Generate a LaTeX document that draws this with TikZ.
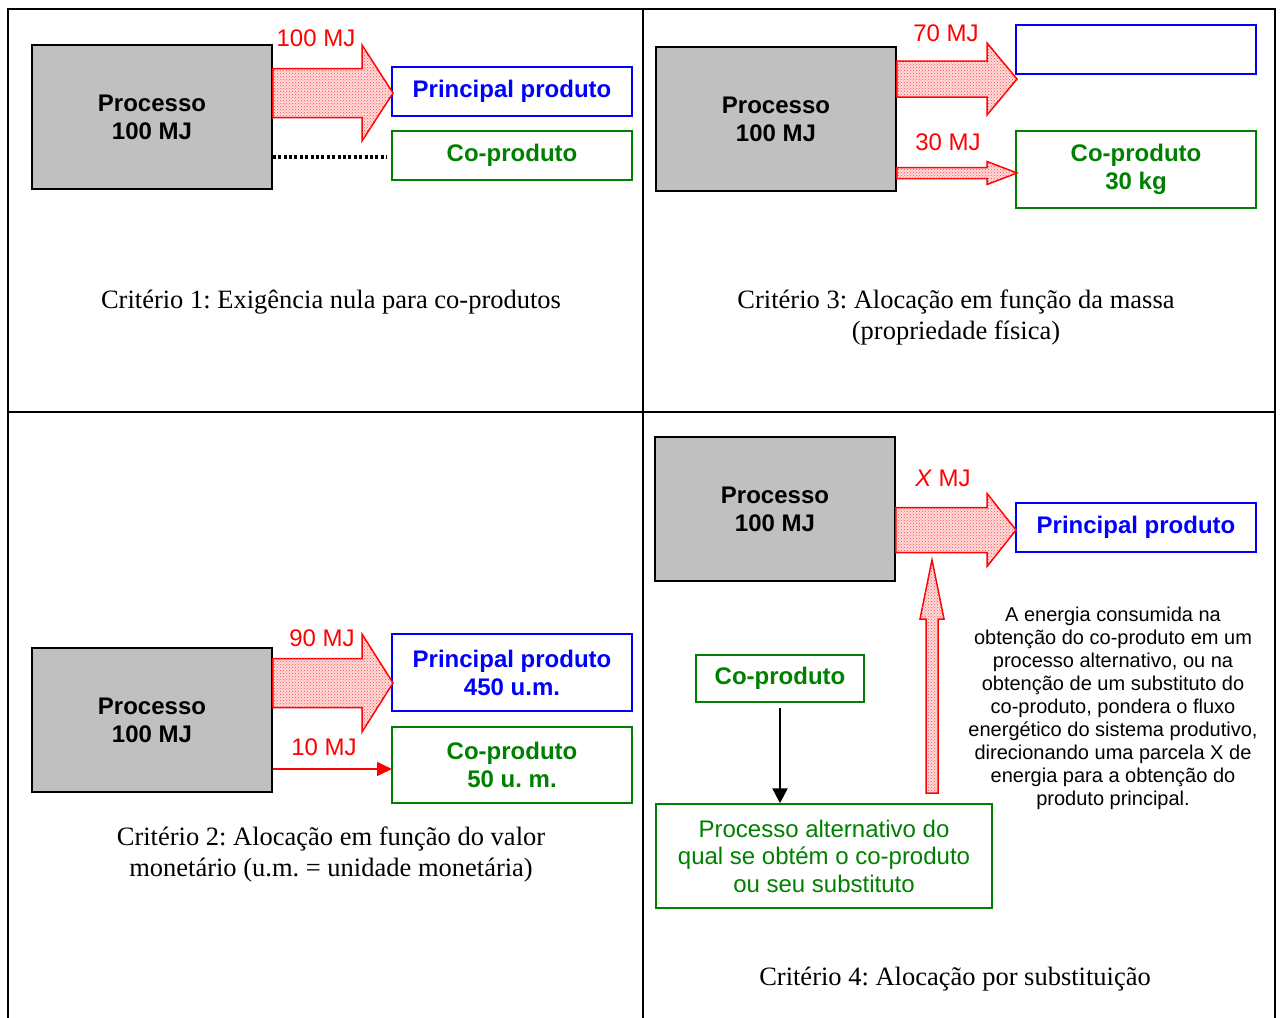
\documentclass[tikz,border=0pt]{standalone}
\usepackage{fontspec}
\setmainfont{Liberation Serif}
\setsansfont{Liberation Sans}
\usetikzlibrary{calc,arrows.meta,patterns}
\frenchspacing
\definecolor{exgreen}{RGB}{0,128,0}
\definecolor{exblue}{RGB}{0,0,255}
\definecolor{exred}{RGB}{255,0,0}
\definecolor{exgray}{RGB}{192,192,192}
\tikzset{
  grid line/.style={line width=2pt,black},
  procbox/.style={draw=black,line width=1.5pt,fill=exgray,minimum width=240pt,minimum height=144pt,
    align=center,font=\sffamily\bfseries\fontsize{24}{28}\selectfont,inner sep=0pt},
  bluebox/.style={draw=exblue,line width=1.5pt,fill=white,minimum width=240pt,align=center,
    text=exblue,font=\sffamily\bfseries\fontsize{24}{28}\selectfont,inner sep=0pt},
  greenbox/.style={draw=exgreen,line width=1.5pt,fill=white,minimum width=240pt,align=center,
    text=exgreen,font=\sffamily\bfseries\fontsize{24}{28}\selectfont,inner sep=0pt},
  mjlabel/.style={text=exred,font=\sffamily\fontsize{24}{28}\selectfont,inner sep=0pt},
  caption/.style={align=center,font=\rmfamily\fontsize{26.5}{31}\selectfont,inner sep=0pt},
  fatarrow/.style={draw=exred,line width=1.5pt,line join=miter,fill=red!14,
    postaction={pattern=crosshatch dots,pattern color=red!70}},
}
% horizontal fat arrow: #1 start (x used), #2 tip, #3 body half, #4 head half, #5 head length
\newcommand\fatH[5]{\path[fatarrow] let \p1=(#1), \p2=(#2) in
  (\x1,{\y2+#3}) -- ({\x2-#5},{\y2+#3}) -- ({\x2-#5},{\y2+#4}) -- (\p2) --
  ({\x2-#5},{\y2-#4}) -- ({\x2-#5},{\y2-#3}) -- (\x1,{\y2-#3}) -- cycle;}
% vertical (upward) fat arrow: #1 base, #2 tip, #3 body half, #4 head half, #5 head length
\newcommand\fatV[5]{\path[fatarrow] let \p1=(#1), \p2=(#2) in
  ({\x2-#3},\y1) -- ({\x2-#3},{\y2-#5}) -- ({\x2-#4},{\y2-#5}) -- (\p2) --
  ({\x2+#4},{\y2-#5}) -- ({\x2+#3},{\y2-#5}) -- ({\x2+#3},\y1) -- cycle;}
\begin{document}
\begin{tikzpicture}[x=1pt,y=-1pt]
\useasboundingbox (0,0) rectangle (1281,1017);
% table grid
\draw[grid line] (8,1030) -- (8,9) -- (1275,9) -- (1275,1030);
\draw[grid line] (643,9) -- (643,1030);
\draw[grid line] (8,412) -- (1275,412);

% ---------- Panel 1 ----------
\node[procbox] (proc1) at (152,117) {Processo\\100 MJ};
\node[bluebox,minimum height=49pt] (prod1) at (512,91.5) {Principal produto};
\node[greenbox,minimum height=49pt] (co1) at (512,155.5) {Co-produto};
\coordinate (tip1) at (393,93);
\fatH{proc1.east}{tip1}{24.5pt}{48pt}{31pt}
\draw[line width=3.2pt,dash pattern=on 3pt off 2.4pt,shorten >=4pt] (proc1.east |- 0,157) coordinate (d1) -- (co1.west |- d1);
\node[mjlabel] (l1) at (316,38) {100 MJ};
\node[caption] (c1) at (331,302) {Critério 1: Exigência nula para co-produtos};

% ---------- Panel 3 ----------
\node[procbox] (proc3) at (776,119) {Processo\\100 MJ};
\node[bluebox,minimum height=49pt] (prod3) at (1136,49.5) {};
\node[greenbox,minimum height=77pt] (co3) at (1136,169.5) {Co-produto\\30 kg};
\coordinate (tip3a) at (1017,79);
\coordinate (tip3b) at (1017,173);
\fatH{proc3.east}{tip3a}{18pt}{36pt}{30pt}
\fatH{proc3.east}{tip3b}{5.5pt}{11.5pt}{30pt}
\node[mjlabel] (l3a) at (946,33) {70 MJ};
\node[mjlabel] (l3b) at (948,142) {30 MJ};
\node[caption] (c3) at (956,317.5) {Critério 3: Alocação em função da massa\\(propriedade física)};

% ---------- Panel 2 ----------
\node[procbox] (proc2) at (152,720) {Processo\\100 MJ};
\node[bluebox,minimum height=77pt] (prod2) at (512,672.5) {Principal produto\\450 u.m.};
\node[greenbox,minimum height=76pt] (co2) at (512,765) {Co-produto\\50 u. m.};
\coordinate (tip2) at (393,683);
\fatH{proc2.east}{tip2}{24.5pt}{49pt}{31pt}
\coordinate (a10) at (392,769);
\draw[exred,line width=1.5pt,-{Triangle[length=15pt,width=14pt]}] (proc2.east |- a10) -- (a10);
\node[mjlabel] (l2a) at (322,638) {90 MJ};
\node[mjlabel] (l2b) at (324,747) {10 MJ};
\node[caption] (c2) at (331,854.5) {Critério 2: Alocação em função do valor\\monetário (u.m. = unidade monetária)};

% ---------- Panel 4 ----------
\node[procbox] (proc4) at (775,509) {Processo\\100 MJ};
\node[bluebox,minimum height=49pt] (prod4) at (1136,527.5) {Principal produto};
\coordinate (tip4) at (1016,530);
\fatH{proc4.east}{tip4}{22.5pt}{36.5pt}{29pt}
\node[mjlabel] (l4) at (943,478) {\textit{X} MJ};
\node[greenbox,minimum width=168pt,minimum height=47pt] (co4) at (780,678.5) {Co-produto};
\node[greenbox,minimum width=336pt,minimum height=104pt,font=\sffamily\fontsize{24}{27.5}\selectfont] (alt4) at (824,856)
  {Processo alternativo do\\qual se obtém o co-produto\\ou seu substituto};
\draw[black,line width=2.5pt,shorten <=5pt,-{Triangle[length=15pt,width=15pt]}] (co4.south) -- (co4.south |- alt4.north);
\coordinate (vbase) at (932,793);
\coordinate (vtip) at (932,560);
\fatV{vbase}{vtip}{6pt}{12pt}{59pt}
\node[align=center,font=\sffamily\fontsize{20}{23}\selectfont,inner sep=0pt] (desc) at (1113,708.5)
  {A energia consumida na\\obtenção do co-produto em um\\processo alternativo, ou na\\obtenção de um substituto do\\co-produto, pondera o fluxo\\energético do sistema produtivo,\\direcionando uma parcela X de\\energia para a obtenção do\\produto principal.};
\node[caption] (c4) at (955,979) {Critério 4: Alocação por substituição};
\end{tikzpicture}
\end{document}
